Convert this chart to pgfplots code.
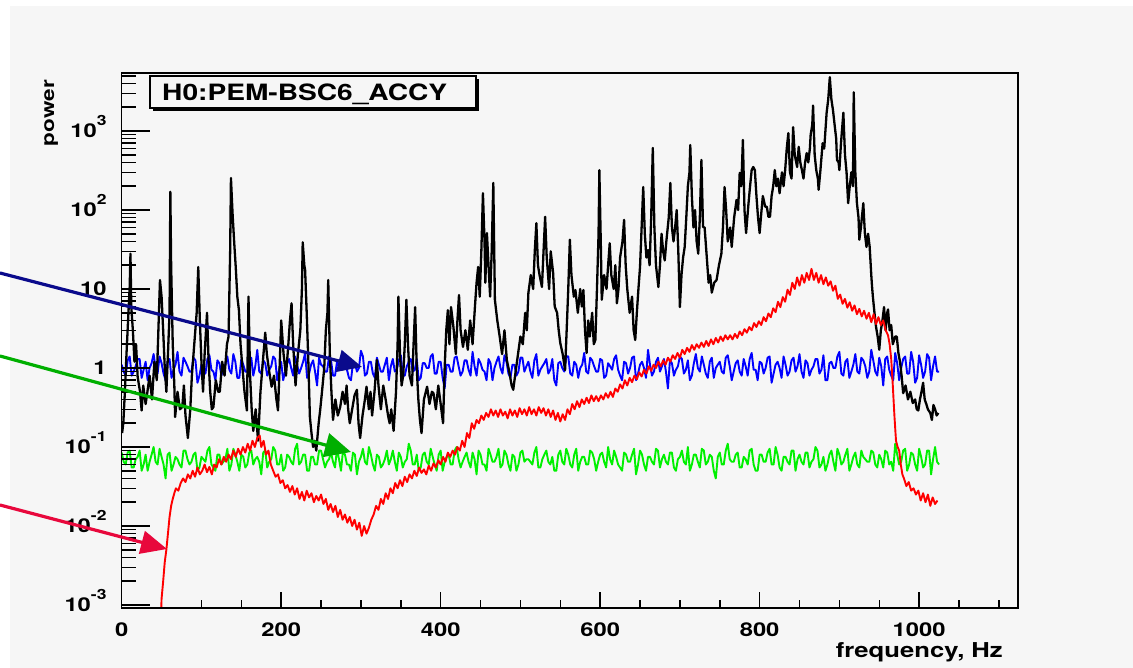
\documentclass[border=0pt]{standalone}
\usepackage{pgfplots}
\pgfplotsset{compat=1.18}
\usepackage{fontspec}
\setmainfont{TeX Gyre Heros}[FakeStretch=1.25]
\usetikzlibrary{arrows.meta}
\definecolor{bg}{RGB}{246,246,246}
\definecolor{rootred}{RGB}{255,0,0}
\definecolor{rootblue}{RGB}{0,0,255}
\definecolor{rootgreen}{RGB}{0,240,0}
\definecolor{arrnavy}{RGB}{10,10,140}
\definecolor{arrgreen}{RGB}{0,175,0}
\definecolor{arrred}{RGB}{232,8,60}
\newcommand\pw[1]{10\raisebox{12pt}{\fontsize{14}{14}\selectfont #1}}
\begin{document}
\begin{tikzpicture}[x=1pt,y=1pt]
\useasboundingbox (0,0) rectangle (1133,-668);
\fill[white] (0,0) rectangle (1133,-668);
\fill[bg] (10,-6) rectangle (1133,-668);

\begin{axis}[
  at={(121.7pt,-608pt)}, anchor=south west,
  scale only axis, width=896.3pt, height=535pt,
  xmin=0, xmax=1124, ymode=log, ymin=9.16e-4, ymax=5420,
  axis line style={line width=1.5pt},
  xtick={0,200,400,600,800,1000}, xticklabels={0,200,400,600,800,1000},
  minor xtick={50,100,...,1100},
  xtick pos=left, ytick=\empty,
  tick align=inside,
  major tick length=16pt, minor tick length=8pt,
  tick style={line width=1.5pt, black},
  xticklabel style={font=\fontsize{19}{19}\selectfont\bfseries, inner sep=0pt, anchor=north, yshift=-15pt},
  line join=round,
]
% blue
\addplot[rootblue, line width=1.9pt] coordinates {
(0,1.1)(2.5,0.9)(5,0.8)(7.5,1.25)(10,1.4)(12.5,0.8)(15,0.9)(17.5,1.05)(20,1.3)(22.5,1.3)(25,0.75)(27.5,0.95)(30,1.2)(32.5,0.7)(35,1.0)(37.5,1.15)(40,1.5)(42.5,1.0)(45,0.85)(47.5,1.4)(50,1.15)(52.5,0.85)(55,0.7)(57.5,1.2)(60,1.3)(62.5,0.75)(65,0.95)(67.5,1.1)(70,1.6)(72.5,0.9)(75,0.8)(77.5,1.35)(80,1.2)(82.5,1.05)
(85,0.9)(87.5,0.9)(90,1.35)(92.5,1.25)(95,0.65)(97.5,0.8)(100,1.1)(102.5,1.05)(105,0.85)(107.5,1.3)(110,1.45)(112.5,0.95)(115,0.9)(117.5,0.7)(120,1.25)(122.5,1.15)(125,0.8)(127.5,1.0)(130,1.1)(132.5,1.4)(135,0.95)(137.5,0.85)(140,1.5)(142.5,1.2)(145,0.75)(147.5,0.75)(150,1.3)(152.5,1.1)(155,0.9)(157.5,0.9)(160,1.2)(162.5,1.35)(165,0.8)(167.5,1.05)
(170,1.7)(172.5,0.9)(175,0.85)(177.5,1.25)(180,1.15)(182.5,0.8)(185,0.95)(187.5,1.05)(190,1.4)(192.5,1.3)(195,0.7)(197.5,0.95)(200,1.2)(202.5,0.7)(205,0.9)(207.5,1.15)(210,1.3)(212.5,1.0)(215,0.8)(217.5,1.4)(220,1.1)(222.5,0.85)(225,1.0)(227.5,1.2)(230,1.55)(232.5,0.75)(235,0.85)(237.5,1.1)(240,1.25)(242.5,0.9)(245,0.6)(247.5,1.35)(250,1.1)(252.5,1.05)
(255,0.9)(257.5,0.9)(260,1.4)(262.5,1.25)(265,0.8)(267.5,0.8)(270,1.2)(272.5,1.05)(275,0.95)(277.5,1.3)(280,1.3)(282.5,0.95)(285,0.75)(287.5,0.7)(290,1.15)(292.5,1.15)(295,0.9)(297.5,1.0)(300,1.65)(302.5,1.4)(305,0.8)(307.5,0.85)(310,1.2)(312.5,1.2)(315,0.85)(317.5,0.75)(320,1.35)(322.5,1.1)(325,0.9)(327.5,0.9)(330,1.1)(332.5,1.35)(335,0.7)(337.5,1.05)
(340,1.3)(342.5,0.9)(345,0.95)(347.5,1.25)(350,1.45)(352.5,0.8)(355,0.8)(357.5,1.05)(360,1.2)(362.5,1.3)(365,0.9)(367.5,0.95)(370,1.3)(372.5,0.7)(375,0.75)(377.5,1.15)(380,1.15)(382.5,1.0)(385,1.0)(387.5,1.4)(390,1.5)(392.5,0.85)(395,0.85)(397.5,1.2)(400,1.2)(402.5,0.75)(405,0.55)(407.5,1.1)(410,1.1)(412.5,0.9)(415,0.9)(417.5,1.35)(420,1.4)(422.5,1.05)
(425,0.8)(427.5,0.9)(430,1.25)(432.5,1.25)(435,0.95)(437.5,0.8)(440,1.6)(442.5,1.05)(445,0.8)(447.5,1.3)(450,1.15)(452.5,0.95)(455,0.9)(457.5,0.7)(460,1.3)(462.5,1.15)(465,0.7)(467.5,1.0)(470,1.2)(472.5,1.4)(475,1.0)(477.5,0.85)(480,1.45)(482.5,1.2)(485,0.85)(487.5,0.75)(490,1.1)(492.5,1.1)(495,0.8)(497.5,0.9)(500,1.35)(502.5,1.35)(505,0.9)(507.5,1.05)
(510,1.2)(512.5,0.9)(515,0.75)(517.5,1.25)(520,1.5)(522.5,0.8)(525,0.95)(527.5,1.05)(530,1.15)(532.5,1.3)(535,0.85)(537.5,0.95)(540,1.3)(542.5,0.7)(545,0.6)(547.5,1.15)(550,1.2)(552.5,1.0)(555,0.9)(557.5,1.4)(560,1.4)(562.5,0.85)(565,0.8)(567.5,1.2)(570,1.1)(572.5,0.75)(575,1.0)(577.5,1.1)(580,1.55)(582.5,0.9)(585,0.85)(587.5,1.35)(590,1.25)(592.5,1.05)
(595,0.9)(597.5,0.9)(600,1.3)(602.5,1.25)(605,0.75)(607.5,0.8)(610,1.15)(612.5,1.05)(615,0.95)(617.5,1.3)(620,1.45)(622.5,0.95)(625,0.8)(627.5,0.7)(630,1.2)(632.5,1.15)(635,0.85)(637.5,1.0)(640,1.35)(642.5,1.4)(645,0.7)(647.5,0.85)(650,1.1)(652.5,1.2)(655,1.0)(657.5,0.75)(660,1.7)(662.5,1.1)(665,0.8)(667.5,0.9)(670,1.2)(672.5,1.35)(675,0.9)(677.5,1.05)
(680,1.3)(682.5,0.9)(685,0.55)(687.5,1.25)(690,1.15)(692.5,0.8)(695,0.95)(697.5,1.05)(700,1.4)(702.5,1.3)(705,0.85)(707.5,0.95)(710,1.25)(712.5,0.7)(715,0.8)(717.5,1.15)(720,1.5)(722.5,1.0)(725,0.9)(727.5,1.4)(730,1.1)(732.5,0.85)(735,0.75)(737.5,1.2)(740,1.35)(742.5,0.75)(745,1.0)(747.5,1.1)(750,1.2)(752.5,0.9)(755,0.85)(757.5,1.35)(760,1.45)(762.5,1.05)
(765,0.7)(767.5,0.9)(770,1.15)(772.5,1.25)(775,0.9)(777.5,0.8)(780,1.3)(782.5,1.05)(785,0.8)(787.5,1.3)(790,1.55)(792.5,0.95)(795,0.95)(797.5,0.7)(800,1.2)(802.5,1.15)(805,0.85)(807.5,1.0)(810,1.35)(812.5,1.4)(815,0.65)(817.5,0.85)(820,1.1)(822.5,1.2)(825,1.0)(827.5,0.75)(830,1.4)(832.5,1.1)(835,0.8)(837.5,0.9)(840,1.25)(842.5,1.35)(845,0.9)(847.5,1.05)
(850,1.5)(852.5,0.9)(855,0.75)(857.5,1.25)(860,1.15)(862.5,0.8)(865,0.95)(867.5,1.05)(870,1.3)(872.5,1.3)(875,0.85)(877.5,0.95)(880,1.45)(882.5,0.7)(885,0.7)(887.5,1.15)(890,1.2)(892.5,1.0)(895,1.0)(897.5,1.4)(900,1.6)(902.5,0.85)(905,0.8)(907.5,1.2)(910,1.3)(912.5,0.75)(915,0.9)(917.5,1.1)(920,1.5)(922.5,0.9)(925,0.85)(927.5,1.35)(930,1.25)(932.5,1.05)
(935,0.75)(937.5,0.9)(940,1.7)(942.5,1.25)(945,0.9)(947.5,0.8)(950,1.35)(952.5,1.05)(955,0.6)(957.5,1.3)(960,1.4)(962.5,0.95)(965,0.8)(967.5,0.7)(970,1.55)(972.5,1.15)(975,0.7)(977.5,1.0)(980,1.3)(982.5,1.4)(985,0.85)(987.5,0.85)(990,1.6)(992.5,1.2)(995,0.65)(997.5,0.75)(1000,1.45)(1002.5,1.1)(1005,0.75)(1007.5,0.9)(1010,1.5)(1012.5,1.35)(1015,0.7)(1017.5,1.05)
(1020,1.4)(1022.5,0.9)(1025,0.9)
};
% green
\addplot[rootgreen, line width=1.9pt] coordinates {
(0,0.085)(2.5,0.065)(5,0.06)(7.5,0.085)(10,0.09)(12.5,0.055)(15,0.055)(17.5,0.07)(20,0.075)(22.5,0.09)(25,0.05)(27.5,0.06)(30,0.08)(32.5,0.05)(35,0.065)(37.5,0.08)(40,0.1)(42.5,0.065)(45,0.06)(47.5,0.095)(50,0.075)(52.5,0.06)(55,0.04)(57.5,0.08)(60,0.085)(62.5,0.05)(65,0.06)(67.5,0.075)(70,0.07)(72.5,0.06)(75,0.055)(77.5,0.09)(80,0.09)(82.5,0.07)
(85,0.06)(87.5,0.065)(90,0.08)(92.5,0.085)(95,0.05)(97.5,0.055)(100,0.075)(102.5,0.07)(105,0.065)(107.5,0.09)(110,0.1)(112.5,0.06)(115,0.055)(117.5,0.05)(120,0.08)(122.5,0.08)(125,0.06)(127.5,0.065)(130,0.07)(132.5,0.095)(135,0.05)(137.5,0.06)(140,0.095)(142.5,0.08)(145,0.065)(147.5,0.05)(150,0.08)(152.5,0.075)(155,0.055)(157.5,0.06)(160,0.085)(162.5,0.09)(165,0.06)(167.5,0.07)
(170,0.075)(172.5,0.065)(175,0.045)(177.5,0.085)(180,0.09)(182.5,0.055)(185,0.065)(187.5,0.07)(190,0.1)(192.5,0.09)(195,0.06)(197.5,0.06)(200,0.08)(202.5,0.05)(205,0.055)(207.5,0.08)(210,0.075)(212.5,0.065)(215,0.06)(217.5,0.095)(220,0.11)(222.5,0.06)(225,0.065)(227.5,0.08)(230,0.08)(232.5,0.05)(235,0.05)(237.5,0.075)(240,0.075)(242.5,0.06)(245,0.06)(247.5,0.09)(250,0.09)(252.5,0.07)
(255,0.055)(257.5,0.065)(260,0.07)(262.5,0.085)(265,0.065)(267.5,0.055)(270,0.095)(272.5,0.07)(275,0.05)(277.5,0.09)(280,0.08)(282.5,0.06)(285,0.06)(287.5,0.05)(290,0.085)(292.5,0.08)(295,0.045)(297.5,0.065)(300,0.075)(302.5,0.095)(305,0.065)(307.5,0.06)(310,0.1)(312.5,0.08)(315,0.06)(317.5,0.05)(320,0.08)(322.5,0.075)(325,0.055)(327.5,0.06)(330,0.07)(332.5,0.09)(335,0.06)(337.5,0.07)
(340,0.09)(342.5,0.065)(345,0.05)(347.5,0.085)(350,0.075)(352.5,0.055)(355,0.065)(357.5,0.07)(360,0.11)(362.5,0.09)(365,0.06)(367.5,0.06)(370,0.08)(372.5,0.05)(375,0.055)(377.5,0.08)(380,0.085)(382.5,0.065)(385,0.06)(387.5,0.095)(390,0.075)(392.5,0.06)(395,0.05)(397.5,0.08)(400,0.09)(402.5,0.05)(405,0.065)(407.5,0.075)(410,0.08)(412.5,0.06)(415,0.06)(417.5,0.09)(420,0.1)(422.5,0.07)
(425,0.055)(427.5,0.065)(430,0.075)(432.5,0.085)(435,0.065)(437.5,0.055)(440,0.085)(442.5,0.07)(445,0.045)(447.5,0.09)(450,0.08)(452.5,0.06)(455,0.06)(457.5,0.05)(460,0.095)(462.5,0.08)(465,0.065)(467.5,0.065)(470,0.075)(472.5,0.095)(475,0.055)(477.5,0.06)(480,0.09)(482.5,0.08)(485,0.06)(487.5,0.05)(490,0.08)(492.5,0.075)(495,0.05)(497.5,0.06)(500,0.085)(502.5,0.09)(505,0.065)(507.5,0.07)
(510,0.07)(512.5,0.065)(515,0.06)(517.5,0.085)(520,0.1)(522.5,0.055)(525,0.055)(527.5,0.07)(530,0.08)(532.5,0.09)(535,0.065)(537.5,0.06)(540,0.075)(542.5,0.05)(545,0.05)(547.5,0.08)(550,0.09)(552.5,0.065)(555,0.06)(557.5,0.095)(560,0.08)(562.5,0.06)(565,0.055)(567.5,0.08)(570,0.095)(572.5,0.05)(575,0.065)(577.5,0.075)(580,0.075)(582.5,0.06)(585,0.06)(587.5,0.09)(590,0.085)(592.5,0.07)
(595,0.05)(597.5,0.065)(600,0.08)(602.5,0.085)(605,0.065)(607.5,0.055)(610,0.1)(612.5,0.07)(615,0.06)(617.5,0.09)(620,0.075)(622.5,0.06)(625,0.055)(627.5,0.05)(630,0.085)(632.5,0.08)(635,0.065)(637.5,0.065)(640,0.08)(642.5,0.095)(645,0.045)(647.5,0.06)(650,0.09)(652.5,0.08)(655,0.06)(657.5,0.05)(660,0.075)(662.5,0.075)(665,0.065)(667.5,0.06)(670,0.095)(672.5,0.09)(675,0.055)(677.5,0.07)
(680,0.08)(682.5,0.065)(685,0.06)(687.5,0.085)(690,0.085)(692.5,0.055)(695,0.05)(697.5,0.07)(700,0.075)(702.5,0.09)(705,0.065)(707.5,0.06)(710,0.1)(712.5,0.05)(715,0.06)(717.5,0.08)(720,0.08)(722.5,0.065)(725,0.055)(727.5,0.095)(730,0.09)(732.5,0.06)(735,0.065)(737.5,0.08)(740,0.075)(742.5,0.05)(745,0.04)(747.5,0.075)(750,0.085)(752.5,0.06)(755,0.06)(757.5,0.09)(760,0.11)(762.5,0.07)
(765,0.065)(767.5,0.065)(770,0.08)(772.5,0.085)(775,0.055)(777.5,0.055)(780,0.075)(782.5,0.07)(785,0.06)(787.5,0.09)(790,0.095)(792.5,0.06)(795,0.05)(797.5,0.05)(800,0.08)(802.5,0.08)(805,0.065)(807.5,0.065)(810,0.085)(812.5,0.095)(815,0.06)(817.5,0.06)(820,0.1)(822.5,0.08)(825,0.055)(827.5,0.05)(830,0.075)(832.5,0.075)(835,0.065)(837.5,0.06)(840,0.09)(842.5,0.09)(845,0.05)(847.5,0.07)
(850,0.08)(852.5,0.065)(855,0.06)(857.5,0.085)(860,0.085)(862.5,0.055)(865,0.065)(867.5,0.07)(870,0.1)(872.5,0.09)(875,0.055)(877.5,0.06)(880,0.075)(882.5,0.05)(885,0.06)(887.5,0.08)(890,0.09)(892.5,0.065)(895,0.05)(897.5,0.095)(900,0.08)(902.5,0.06)(905,0.065)(907.5,0.08)(910,0.095)(912.5,0.05)(915,0.06)(917.5,0.075)(920,0.085)(922.5,0.06)(925,0.055)(927.5,0.09)(930,0.075)(932.5,0.07)
(935,0.065)(937.5,0.065)(940,0.09)(942.5,0.085)(945,0.06)(947.5,0.055)(950,0.08)(952.5,0.07)(955,0.055)(957.5,0.09)(960,0.085)(962.5,0.06)(965,0.065)(967.5,0.05)(970,0.11)(972.5,0.08)(975,0.06)(977.5,0.065)(980,0.09)(982.5,0.095)(985,0.05)(987.5,0.06)(990,0.085)(992.5,0.08)(995,0.06)(997.5,0.05)(1000,0.095)(1002.5,0.075)(1005,0.055)(1007.5,0.06)(1010,0.09)(1012.5,0.09)(1015,0.045)(1017.5,0.07)
(1020,0.1)(1022.5,0.065)(1025,0.06)
};
% black
\addplot[black, line width=2.3pt] coordinates {
(0.5,0.15)(2,0.2)(4,0.5)(6,1.5)(8,4)(10,10.6)(11,28)(12,6)(14,3)(16,1.2)(18,2)(20,0.77)(23,0.5)(25,0.29)(27,0.6)(30,0.35)(32,0.48)(35,0.8)(38,0.4)(41,1.2)(44,0.7)(46,3)(48,13)(50,8)(52,3)(54,1)(56,0.5)(58,1.5)(60,5)(61,170)(62,20)(64,2)(66,0.6)(67,0.24)(70,0.5)(73,0.3)(76,0.32)(78,0.6)(80,0.25)(83,0.13)(86,0.3)(88,0.8)(91,2)(94,5)(96,19)(98,4)
(100,1.2)(102,0.5)(104,1.5)(107,5)(109,1.2)(111,0.5)(113,0.3)(115,0.32)(118,0.7)(121,0.5)(123,0.5)(126,1.2)(129,0.8)(132,2)(134,2.5)(136,30)(137,254)(139,91)(141,40)(143,19)(145,8)(147,5.4)(149,2)(152,0.86)(154,0.5)(157,0.29)(159,8)(161,0.8)(163,0.3)(165,0.16)(168,0.3)(171,0.12)(174,0.5)(177,1.2)(180,2.8)(182,1.5)(185,0.9)(188,0.58)(191,0.8)(194,0.4)(196,0.29)(198,1)
(200,4)(203,1.5)(206,0.8)(209,2)(211,4)(213,6.6)(215,2)(218,0.6)(221,1.5)(224,3)(226,10)(227,39)(229,20)(230,17.4)(232,5)(234,1.26)(236,0.24)(238,0.15)(240,0.1)(242,0.12)(244,0.09)(247,0.2)(249,0.3)(251,0.48)(254,1)(256,3)(258,5)(259,13)(261,1.5)(263,0.5)(265,0.22)(268,0.4)(271,0.25)(274,0.32)(277,0.5)(280,0.35)(282,0.6)(284,0.3)(286,0.2)(289,0.3)(292,0.45)(295,0.53)(297,0.2)(299,0.13)
(302,0.25)(305,0.4)(307,0.58)(310,0.3)(312,0.5)(314,0.25)(317,0.5)(320,1.26)(322,0.6)(325,0.3)(328,0.6)(331,0.4)(334,0.25)(336,0.2)(338,0.3)(341,0.16)(344,0.5)(346,2)(347,8)(349,1.5)(351,0.6)(353,0.8)(355,2)(357,7.3)(359,2)(361,0.8)(364,0.6)(366,2)(368,5.9)(370,1)(372,0.4)(374,0.22)(376,0.15)(379,0.4)(383,0.58)(386,0.35)(389,0.5)(391,0.48)(394,0.3)(397,0.6)
(400,0.35)(403,0.2)(405,1)(407,3)(409,5.4)(411,2)(413,5.9)(416,3.3)(419,1.5)(421,4)(423,8.4)(425,3)(428,1.85)(431,3)(434,1.7)(437,4)(440,2)(443,6)(445,12)(447,19)(449,8)(451,30)(453,163)(455,40)(456,12)(458,51)(460,20)(462,8)(464,30)(466,220)(468,7.3)(471,4)(474,2.5)(477,1.5)(480,3)(483,1.26)(486,0.9)(489,0.6)(491,0.53)(494,0.9)(497,1.5)
(500,2.5)(503,2)(506,5)(508,3)(510,8.9)(513,15)(516,10)(518,30)(520,68)(522,20)(524,15)(527,10.6)(529,30)(531,82)(533,25)(536,10)(538,30)(541,16)(543,6)(546,5)(548,3)(550,2.07)(553,1.5)(556,0.94)(558,3)(560,10)(562,42)(564,15)(567,8)(569,9.7)(572,5)(575,10)(577,6)(579,9.7)(581,3)(583,1.55)(585,4)(587,2.5)(590,5)(592,2)(594,2.26)(596,10)(598,50)(599,320)
(601,30)(602,7.3)(605,15)(608,10)(610,20)(612,38)(614,15)(617,10)(619,20)(621,6.6)(623,10)(625,25)(628,40)(630,75)(632,20)(634,10)(637,5)(640,8)(642,3)(644,2.26)(646,5)(648,10)(650,19)(652,60)(654,195)(656,50)(658,25)(660,31)(662,20)(664,80)(666,610)(668,60)(670,20)(673,10.6)(675,20)(677,50)(679,30)(681,23)(683,40)(686,80)(688,220)(690,60)(692,40)(694,60)(696,100)(698,30)
(700,5.9)(702,15)(704,25)(706,34)(708,80)(710,200)(712,300)(713,665)(715,150)(717,60)(719,100)(721,40)(723,28)(725,80)(727,430)(729,61)(731,60)(734,23)(736,12)(738,15)(740,9)(743,12)(746,13)(749,20)(752,28)(754,60)(756,195)(758,100)(760,40)(763,60)(765,34)(768,80)(771,134)(773,100)(775,295)(777,200)(779,770)(781,100)(783,51)(786,120)(788,200)(790,320)(792,350)(794,320)(796,150)(798,80)
(800,51)(802,90)(804,150)(807,110)(809,110)(811,82)(813,82)(815,150)(817,200)(819,320)(821,200)(823,250)(825,163)(828,300)(830,200)(832,320)(834,600)(836,940)(838,300)(840,250)(842,1120)(844,500)(847,350)(849,630)(851,400)(853,320)(855,250)(857,400)(859,525)(861,400)(863,600)(864,900)(866,1200)(867,2100)(869,500)(871,320)(873,250)(874,180)(876,300)(879,700)(881,600)(884,1700)(886,2500)(888,4800)(890,2500)(892,1830)(894,1200)(896,800)(897,430)(899,400)
(900,320)(902,700)(905,1700)(907,500)(909,300)(911,122)(913,200)(915,300)(917,200)(918,3100)(920,300)(922,122)(924,80)(925,42)(927,60)(930,122)(932,50)(934,34)(936,50)(938,34)(940,15)(941,10.6)(942,8)(944,5)(946,3.3)(948,2.5)(950,1.7)(952,3)(954,4)(956,5.9)(958,3)(960,5)(961,5.5)(963,3)(965,3.5)(967,2)(970,2.5)(972,2.5)(974,1.55)(976,1.2)(978,0.8)(980,0.48)(983,0.6)(986,0.4)(989,0.5)(992,0.36)(995,0.4)(997,0.3)(999,0.29)
(1001,0.4)(1003,0.5)(1005,0.65)(1007,0.4)(1009,0.35)(1011,0.3)(1014,0.27)(1016,0.22)(1018,0.34)(1020,0.3)(1022,0.25)(1024,0.27)
};
% red
\addplot[rootred, line width=1.9pt] coordinates {
(48,0.0003)(50,0.0012)(52,0.002)(54,0.0035)(56,0.005)(58,0.008)(60,0.013)(62,0.018)(64,0.022)(66,0.026)(68,0.03)(71,0.028)(74,0.035)(77,0.04)(80,0.036)(83,0.045)(86,0.04)(89,0.05)(92,0.042)(95,0.055)(98,0.045)
(101,0.05)(104,0.06)(107,0.048)(110,0.056)(113,0.045)(116,0.06)(119,0.055)(122,0.07)(125,0.06)(128,0.075)(131,0.065)(134,0.08)(137,0.07)(140,0.09)(143,0.075)(146,0.095)(149,0.08)(152,0.1)(155,0.085)(158,0.11)(161,0.09)(164,0.12)(167,0.1)(170,0.13)(173,0.14)(175,0.1)(178,0.12)(181,0.08)(184,0.09)(187,0.06)(190,0.05)(193,0.042)(196,0.045)(199,0.035)
(202,0.038)(205,0.03)(208,0.033)(211,0.027)(214,0.032)(217,0.025)(220,0.03)(223,0.022)(226,0.027)(229,0.021)(232,0.028)(235,0.023)(238,0.026)(241,0.02)(244,0.024)(247,0.021)(250,0.025)(253,0.019)(256,0.022)(259,0.016)(262,0.019)(265,0.015)(268,0.018)(271,0.013)(274,0.016)(277,0.012)(280,0.014)(283,0.011)(286,0.013)(289,0.01)(292,0.012)(295,0.009)(298,0.011)
(301,0.0075)(304,0.01)(307,0.008)(310,0.0095)(313,0.012)(316,0.014)(319,0.018)(322,0.016)(325,0.022)(328,0.019)(331,0.026)(334,0.022)(337,0.03)(340,0.026)(343,0.035)(346,0.03)(349,0.038)(352,0.032)(355,0.042)(358,0.036)(361,0.045)(364,0.04)(367,0.05)(370,0.043)(373,0.055)(376,0.047)(379,0.052)(382,0.045)(385,0.058)(388,0.05)(391,0.062)(394,0.055)(397,0.068)
(400,0.06)(403,0.075)(406,0.065)(409,0.085)(412,0.075)(415,0.09)(418,0.08)(421,0.1)(424,0.09)(427,0.12)(430,0.1)(433,0.15)(436,0.13)(439,0.2)(442,0.17)(445,0.22)(448,0.2)(451,0.25)(454,0.22)(457,0.27)(460,0.24)(463,0.3)(466,0.25)(469,0.29)(472,0.24)(475,0.3)(478,0.25)(481,0.28)(484,0.23)(487,0.3)(490,0.25)(493,0.29)(496,0.24)(499,0.31)
(502,0.26)(505,0.3)(508,0.25)(511,0.32)(514,0.26)(517,0.3)(520,0.25)(523,0.32)(526,0.27)(529,0.31)(532,0.25)(535,0.3)(538,0.24)(541,0.29)(544,0.22)(547,0.27)(550,0.21)(553,0.26)(556,0.22)(559,0.3)(562,0.26)(565,0.35)(568,0.3)(571,0.38)(574,0.32)(577,0.4)(580,0.35)(583,0.42)(586,0.36)(589,0.45)(592,0.38)(595,0.44)(598,0.38)
(601,0.45)(604,0.4)(607,0.48)(610,0.42)(613,0.5)(616,0.43)(619,0.55)(622,0.5)(625,0.62)(628,0.55)(631,0.7)(634,0.6)(637,0.75)(640,0.66)(643,0.8)(646,0.72)(649,0.88)(652,0.78)(655,0.95)(658,0.85)(661,1.05)(664,0.92)(667,1.1)(670,1.0)(673,1.2)(676,1.05)(679,1.25)(682,1.1)(685,1.35)(688,1.2)(691,1.45)(694,1.3)(697,1.55)
(700,1.35)(703,1.7)(706,1.5)(709,1.8)(712,1.6)(715,1.95)(718,1.7)(721,2.0)(724,1.8)(727,2.1)(730,1.85)(733,2.2)(736,1.9)(739,2.3)(742,2.0)(745,2.4)(748,2.1)(751,2.5)(754,2.2)(757,2.6)(760,2.3)(763,2.6)(766,2.3)(769,2.7)(772,2.4)(775,2.9)(778,2.6)(781,3.1)(784,2.8)(787,3.3)(790,3.0)(793,3.7)(796,3.3)(799,3.9)
(802,3.5)(805,4.4)(808,3.9)(811,4.9)(814,4.4)(817,5.7)(820,5.1)(823,6.9)(826,5.9)(829,7.9)(832,6.9)(835,9.8)(838,8.4)(841,12)(844,10)(847,14)(850,11)(853,15)(856,12)(859,16)(862,13)(865,18)(868,13)(871,16)(874,12)(877,15)(880,11.5)(883,14)(886,11)(889,12.5)(892,9.5)(895,11)
(898,7.5)(901,8.5)(904,6.5)(907,7.5)(910,5.8)(913,6.8)(916,5.3)(919,6.2)(922,4.8)(925,5.6)(928,4.5)(931,5.3)(934,4.2)(937,5)(940,3.8)(943,4.8)(946,3.6)(949,4.4)(952,3.5)(955,4.0)(958,3.0)(961,2.6)(963,2.0)(965,1.3)(967,0.6)(969,0.25)(971,0.12)(973,0.1)(975,0.09)(977,0.06)(979,0.045)(981,0.04)(984,0.032)(987,0.036)(990,0.028)(993,0.03)(996,0.025)(999,0.028)
(1002,0.021)(1005,0.026)(1008,0.02)(1011,0.025)(1014,0.018)(1017,0.023)(1020,0.019)(1023,0.021)
};
\end{axis}

% second axis: y ticks with their own lengths
\begin{axis}[
  at={(121.7pt,-608pt)}, anchor=south west,
  scale only axis, width=896.3pt, height=535pt,
  xmin=0, xmax=1124, ymode=log, ymin=9.16e-4, ymax=5420,
  axis line style={line width=1.5pt},
  xtick=\empty, ytick pos=left,
  ytick={0.001,0.01,0.1,1,10,100,1000},
  yticklabels={\pw{-3},\pw{-2},\pw{-1},1\hspace{5pt},10\hspace{6pt},\pw{2},\pw{3}},
  minor ytick={0.002,0.003,0.004,0.005,0.006,0.007,0.008,0.009,0.02,0.03,0.04,0.05,0.06,0.07,0.08,0.09,0.2,0.3,0.4,0.5,0.6,0.7,0.8,0.9,2,3,4,5,6,7,8,9,20,30,40,50,60,70,80,90,200,300,400,500,600,700,800,900,2000,3000,4000,5000},
  tick align=inside,
  major tick length=28pt, minor tick length=14pt,
  tick style={line width=1.5pt, black},
  yticklabel style={font=\fontsize{19}{19}\selectfont\bfseries, inner sep=0pt, anchor=base east, xshift=-15pt, yshift=-7pt},
]
\end{axis}

% title box
\fill[black] (153,-79) rectangle (479,-111);
\filldraw[fill=bg, draw=black, line width=1.2pt] (150,-76) rectangle (476,-108);
\node[anchor=base west, inner sep=0pt, font=\fontsize{22.5}{22.5}\selectfont\bfseries] at (162,-101) {H0:PEM-BSC6\_ACCY};

% axis titles
\node[rotate=90, anchor=base east, inner sep=0pt, font=\fontsize{18}{18}\selectfont\bfseries] at (54,-80) {power};
\node[anchor=base east, inner sep=0pt, font=\fontsize{20.5}{20.5}\selectfont\bfseries] at (1003,-657) {frequency, Hz};

% annotation arrows
\draw[arrnavy, line width=3.2pt, -{Triangle[length=24pt,width=22pt]}] (0,-273) -- (362,-367);
\draw[arrgreen, line width=3.2pt, -{Triangle[length=26pt,width=24pt]}] (0,-356) -- (351,-452);
\draw[arrred, line width=3.2pt, -{Triangle[length=26pt,width=23pt]}] (0,-505) -- (167,-549);
\end{tikzpicture}
\end{document}
